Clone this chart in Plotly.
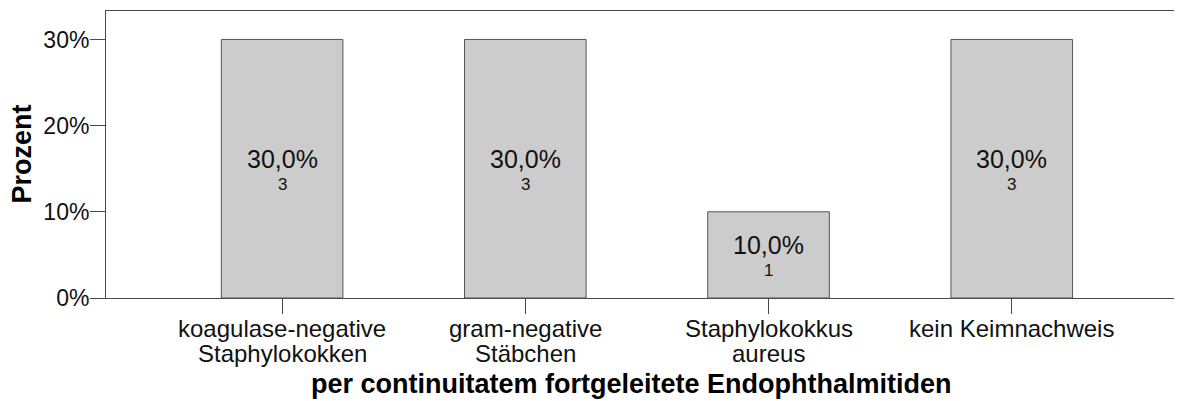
import plotly.graph_objects as go

categories = ["koagulase-negative Staphylokokken", "gram-negative Stäbchen",
              "Staphylokokkus aureus", "kein Keimnachweis"]
# label lines under each bar
label_line1 = ["koagulase-negative", "gram-negative", "Staphylokokkus", "kein Keimnachweis"]
label_line2 = ["Staphylokokken", "Stäbchen", "aureus", ""]
percent = [30.0, 30.0, 10.0, 30.0]
counts = [3, 3, 1, 3]
y_ticks = [0, 10, 20, 30]
y_ticktext = ["0%", "10%", "20%", "30%"]

FONT = "Liberation Sans, Arial, sans-serif"
AXIS_COL = "#4a4a4a"
TXT = "#111111"

xs = list(range(len(categories)))

fig = go.Figure(go.Bar(
    x=xs, y=percent, width=0.5,
    marker=dict(color="#cccccc", line=dict(color="#555555", width=1)),
    hoverinfo="skip", showlegend=False,
))

ann = []
# value labels inside the bars: percent and count
for x, p, c in zip(xs, percent, counts):
    ann.append(dict(x=x, y=p / 2, xref="x", yref="y", yshift=10, showarrow=False,
                    text=f"{p:.1f}".replace(".", ",") + "%",
                    font=dict(size=25, color=TXT), yanchor="middle"))
    ann.append(dict(x=x, y=p / 2, xref="x", yref="y", yshift=-16, showarrow=False,
                    text=str(c), font=dict(size=17, color=TXT), yanchor="middle"))
# category labels (two lines, tighter spacing than plotly's ticktext)
for x, l1, l2 in zip(xs, label_line1, label_line2):
    ann.append(dict(x=x, y=0, xref="x", yref="paper", yshift=-30, showarrow=False,
                    text=l1, font=dict(size=24, color=TXT), yanchor="middle"))
    if l2:
        ann.append(dict(x=x, y=0, xref="x", yref="paper", yshift=-55, showarrow=False,
                        text=l2, font=dict(size=24, color=TXT), yanchor="middle"))
# axis titles
ann.append(dict(x=0.488, y=0, xref="paper", yref="paper", yshift=-86, showarrow=False,
                text="<b>per continuitatem fortgeleitete Endophthalmitiden</b>",
                font=dict(size=27, color="#000000"), yanchor="middle"))
ann.append(dict(x=0, y=0.5, xref="paper", yref="paper", xshift=-85, showarrow=False,
                text="<b>Prozent</b>", textangle=-90,
                font=dict(size=27, color="#000000"), xanchor="center", yanchor="middle"))

fig.update_layout(
    width=1174, height=393,
    margin=dict(l=98, r=0, t=3, b=103),
    paper_bgcolor="white", plot_bgcolor="white",
    font=dict(family=FONT, color=TXT),
    annotations=ann,
    xaxis=dict(
        range=[-0.724, 3.70],
        tickvals=xs, ticktext=[""] * len(xs),
        ticks="outside", ticklen=15, tickcolor=AXIS_COL, tickwidth=1,
        showline=True, linecolor=AXIS_COL, linewidth=1, mirror=True,
        showgrid=False, zeroline=False,
    ),
    yaxis=dict(
        range=[0, 33.3],
        tickvals=y_ticks, ticktext=y_ticktext,
        tickfont=dict(size=23),
        ticks="outside", ticklen=15, tickcolor=AXIS_COL, tickwidth=1,
        ticklabelstandoff=-4,
        showline=True, linecolor=AXIS_COL, linewidth=1,
        showgrid=False, zeroline=False,
    ),
)

fig.write_html("out.html")
